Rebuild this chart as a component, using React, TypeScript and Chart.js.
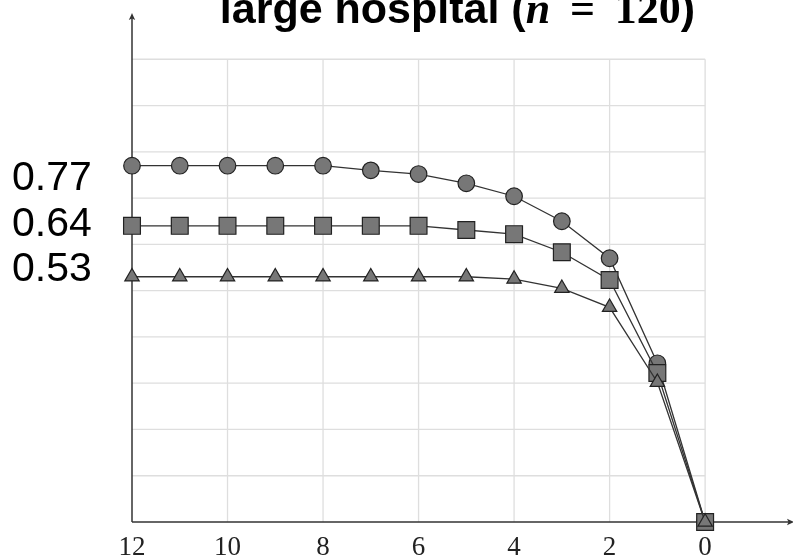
import React, { useEffect, useRef } from "react";
import { Chart, registerables } from "chart.js";

Chart.register(...registerables);

// ---- data ----
const X_VALUES = [12, 11, 10, 9, 8, 7, 6, 5, 4, 3, 2, 1, 0];
const CIRCLE_SERIES = [0.77, 0.77, 0.77, 0.77, 0.77, 0.76, 0.752, 0.732, 0.704, 0.65, 0.57, 0.343, 0];
const SQUARE_SERIES = [0.64, 0.64, 0.64, 0.64, 0.64, 0.64, 0.64, 0.631, 0.622, 0.583, 0.523, 0.322, 0];
const TRIANGLE_SERIES = [0.53, 0.53, 0.53, 0.53, 0.53, 0.53, 0.53, 0.53, 0.525, 0.505, 0.464, 0.302, 0];
const X_TICKS = [12, 10, 8, 6, 4, 2, 0];
const Y_GRID = [0, 0.1, 0.2, 0.3, 0.4, 0.5, 0.6, 0.7, 0.8, 0.9, 1.0];
const SIDE_LABELS = ["0.77", "0.64", "0.53"];
const TITLE_TEXT = "large hospital (";
const TITLE_VAR = "n";
const TITLE_VALUE = "120";

const X_MIN = -1.84;
const X_MAX = 12;
const Y_MIN = 0;
const Y_MAX = 1.1;

function drawArrow(ctx: CanvasRenderingContext2D, tx: number, ty: number, angle: number) {
  ctx.save();
  ctx.translate(tx, ty);
  ctx.rotate(angle);
  ctx.beginPath();
  ctx.moveTo(0, 0);
  ctx.quadraticCurveTo(-3, 1.2, -7, 3.2);
  ctx.lineTo(-5.5, 0);
  ctx.lineTo(-7, -3.2);
  ctx.quadraticCurveTo(-3, -1.2, 0, 0);
  ctx.closePath();
  ctx.fillStyle = "#333";
  ctx.fill();
  ctx.restore();
}

const decorPlugin = {
  id: "decor",
  beforeDatasetsDraw(chart: any) {
    const { ctx, chartArea } = chart;
    const xs = chart.scales.x;
    const ys = chart.scales.y;
    const gridLeft = xs.getPixelForValue(Math.max(...X_TICKS));
    const gridRight = xs.getPixelForValue(Math.min(...X_TICKS));
    const gridTop = ys.getPixelForValue(Math.max(...Y_GRID));
    const gridBottom = ys.getPixelForValue(Math.min(...Y_GRID));
    ctx.save();
    ctx.strokeStyle = "#dedede";
    ctx.lineWidth = 1.3;
    xs.ticks.forEach((t: any) => {
      if (t.value === Math.max(...X_TICKS)) return;
      const px = xs.getPixelForValue(t.value);
      ctx.beginPath();
      ctx.moveTo(px, gridTop);
      ctx.lineTo(px, gridBottom);
      ctx.stroke();
    });
    ys.ticks.forEach((t: any) => {
      if (t.value === Math.min(...Y_GRID)) return;
      const py = ys.getPixelForValue(t.value);
      ctx.beginPath();
      ctx.moveTo(gridLeft, py);
      ctx.lineTo(gridRight, py);
      ctx.stroke();
    });
    // axes
    ctx.strokeStyle = "#333";
    ctx.lineWidth = 1.5;
    ctx.beginPath();
    ctx.moveTo(gridLeft, gridBottom);
    ctx.lineTo(gridLeft, chartArea.top + 3);
    ctx.stroke();
    ctx.beginPath();
    ctx.moveTo(gridLeft, gridBottom);
    ctx.lineTo(chartArea.right - 2, gridBottom);
    ctx.stroke();
    drawArrow(ctx, gridLeft, chartArea.top, -Math.PI / 2);
    drawArrow(ctx, chartArea.right + 1, gridBottom, 0);

    // x tick labels
    ctx.fillStyle = "#222";
    ctx.font = '27px "Liberation Serif", "DejaVu Serif", serif';
    ctx.textAlign = "center";
    ctx.textBaseline = "alphabetic";
    xs.ticks.forEach((t: any) => {
      const px = xs.getPixelForValue(t.value);
      ctx.fillText(String(t.value), px, gridBottom + 33);
    });
    ctx.restore();
  },
  afterDraw(chart: any) {
    const { ctx } = chart;
    ctx.save();
    // side labels
    ctx.fillStyle = "#000";
    ctx.font = '41px "Liberation Sans", Arial, sans-serif';
    ctx.textAlign = "left";
    ctx.textBaseline = "alphabetic";
    SIDE_LABELS.forEach((s, i) => {
      ctx.fillText(s, 12, 190 + i * 45.5);
    });
    // title
    const sans = 'bold 43px "Liberation Sans", Arial, sans-serif';
    const mathIt = 'italic bold 44px "Liberation Serif", "DejaVu Serif", serif';
    const math = 'bold 44px "Liberation Serif", "DejaVu Serif", serif';
    const parts: [string, string][] = [
      [TITLE_TEXT, sans],
      [TITLE_VAR, mathIt],
      [" \u2009=\u2009 ", math],
      [TITLE_VALUE, math],
      [")", sans],
    ];
    let total = 0;
    const widths = parts.map(([t, f]) => {
      ctx.font = f;
      const w = ctx.measureText(t).width;
      total += w;
      return w;
    });
    let cx = 457.5 - total / 2;
    const baseY = 23;
    parts.forEach(([t, f], i) => {
      ctx.font = f;
      ctx.fillText(t, cx, baseY);
      cx += widths[i];
    });
    ctx.restore();
  },
};

export default function App() {
  const canvasRef = useRef<HTMLCanvasElement | null>(null);
  useEffect(() => {
    if (!canvasRef.current) return;
    const common = {
      borderColor: "#333",
      borderWidth: 1.3,
      pointBackgroundColor: "#777",
      pointBorderColor: "#222",
      pointBorderWidth: 1.2,
      fill: false,
      tension: 0,
      clip: false as any,
    };
    const chart = new Chart(canvasRef.current, {
      type: "line",
      data: {
        datasets: [
          {
            ...common,
            label: "circle",
            data: X_VALUES.map((x, i) => ({ x, y: CIRCLE_SERIES[i] })),
            pointStyle: "circle",
            pointRadius: 8.3,
            order: 3,
          },
          {
            ...common,
            label: "square",
            data: X_VALUES.map((x, i) => ({ x, y: SQUARE_SERIES[i] })),
            pointStyle: "rect",
            pointRadius: 11.9,
            order: 2,
          },
          {
            ...common,
            label: "triangle",
            data: X_VALUES.map((x, i) => ({ x, y: TRIANGLE_SERIES[i] })),
            pointStyle: "triangle",
            pointRadius: 8.3,
            order: 1,
          },
        ],
      },
      options: {
        animation: false,
        responsive: false,
        devicePixelRatio: 1,
        layout: { autoPadding: false, padding: { left: 132, right: 0, top: 13, bottom: 36 } },
        plugins: {
          legend: { display: false },
          title: { display: false },
          tooltip: { enabled: false },
        },
        events: [],
        scales: {
          x: {
            type: "linear",
            display: false,
            reverse: true,
            min: X_MIN,
            max: X_MAX,
            afterBuildTicks: (scale: any) => {
              scale.ticks = X_TICKS.map((v) => ({ value: v }));
            },
          },
          y: {
            type: "linear",
            display: false,
            min: Y_MIN,
            max: Y_MAX,
            afterBuildTicks: (scale: any) => {
              scale.ticks = Y_GRID.map((v) => ({ value: v }));
            },
          },
        },
      },
      plugins: [decorPlugin],
    });
    return () => chart.destroy();
  }, []);
  return (
    <div style={{ position: "absolute", left: 0, top: 0, width: 793, height: 558, background: "#fff" }}>
      <canvas ref={canvasRef} width={793} height={558} style={{ width: 793, height: 558, display: "block" }} />
    </div>
  );
}
